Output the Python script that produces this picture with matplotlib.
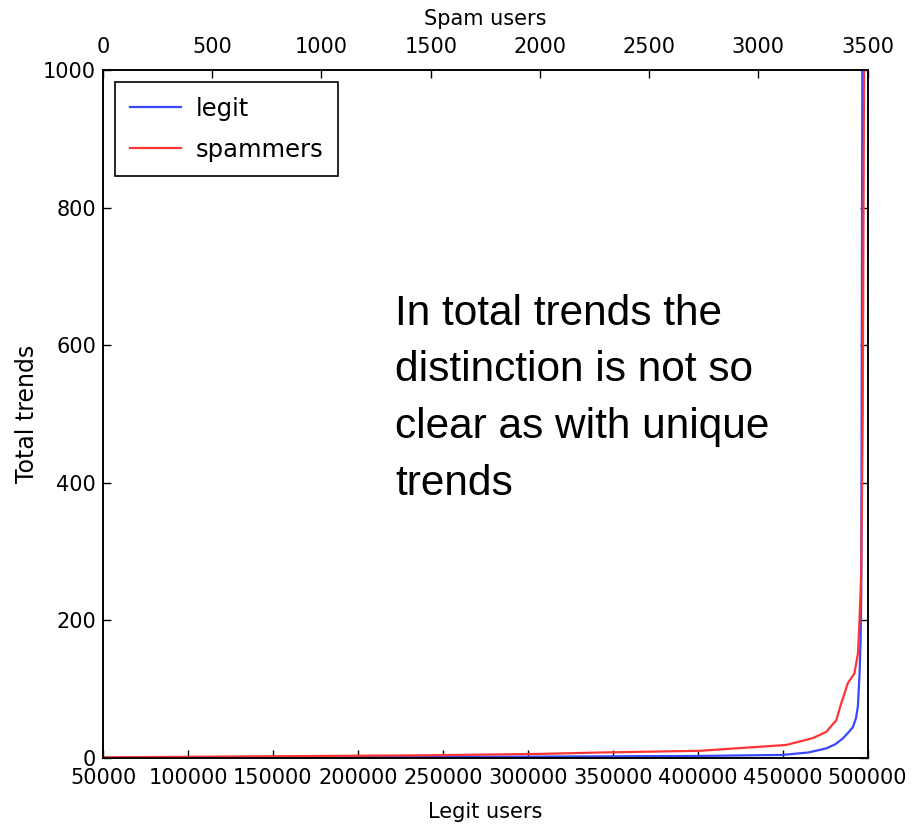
import numpy as np
import matplotlib
matplotlib.use("Agg")
import matplotlib.pyplot as plt

plt.rcParams['font.family'] = ['DejaVu Sans']

# legit users (bottom axis) vs total trends
legit_x = [50000, 100000, 200000, 300000, 400000, 450000, 465000, 475700,
           481000, 485500, 489000, 491400, 493200, 494300, 495300, 495900,
           496300, 496600, 497000]
legit_y = [0.5, 0.8, 1.3, 2.0, 3.0, 4.5, 8, 14, 20, 28.6, 38, 45, 58, 75,
           123, 171, 244, 600, 1100]

# spam users (top axis) vs total trends
spam_x = [0, 500, 1000, 1500, 2000, 2274, 2731, 3128, 3250, 3311, 3357,
          3380, 3410, 3440, 3456, 3463, 3471, 3478, 3485]
spam_y = [1, 2, 3, 4, 6, 8, 10.5, 19, 29, 38, 55, 80, 109, 123, 152, 200,
          268, 500, 1100]

fig = plt.figure(figsize=(9.2, 8.26), dpi=100)
ax = fig.add_axes([0.112, 0.0823, 0.831, 0.8330])
ax2 = ax.twiny()

l1, = ax.plot(legit_x, legit_y, color='#3848ff', lw=1.6, label='legit')
l2, = ax2.plot(spam_x, spam_y, color='#ff3535', lw=1.6, label='spammers')

ax.set_xlim(50000, 500000)
ax.set_ylim(0, 1000)
ax2.set_xlim(0, 3500)

ax.set_xticks(np.arange(50000, 500001, 50000))
ax.set_yticks(np.arange(0, 1001, 200))
ax2.set_xticks(np.arange(0, 3501, 500))

for a in (ax, ax2):
    a.tick_params(direction='in', length=6, width=1, labelsize=15,
                  colors='black')
    for s in a.spines.values():
        s.set_linewidth(1.2)
ax.tick_params(axis='y', right=True, pad=5)
ax.tick_params(axis='x', pad=7)
ax2.tick_params(axis='x', pad=9)

ax.set_xlabel('Legit users', fontsize=15, labelpad=10)
ax.set_ylabel('Total trends', fontsize=17, labelpad=3)
ax2.set_xlabel('Spam users', fontsize=15, labelpad=9)

leg = ax.legend(handles=[l1, l2], loc='upper left', fontsize=17.5,
                fancybox=False, edgecolor='black', framealpha=1,
                handlelength=2.1, handletextpad=0.6, borderpad=0.6,
                labelspacing=0.7, borderaxespad=0.5)
leg.get_frame().set_linewidth(1.2)

ax.text(0.382, 0.675, 'In total trends the\ndistinction is not so\nclear as with unique\ntrends',
        transform=ax.transAxes, fontsize=30.5, family='Liberation Sans',
        va='top', ha='left', linespacing=1.54)

fig.savefig('out.png', dpi=100)
